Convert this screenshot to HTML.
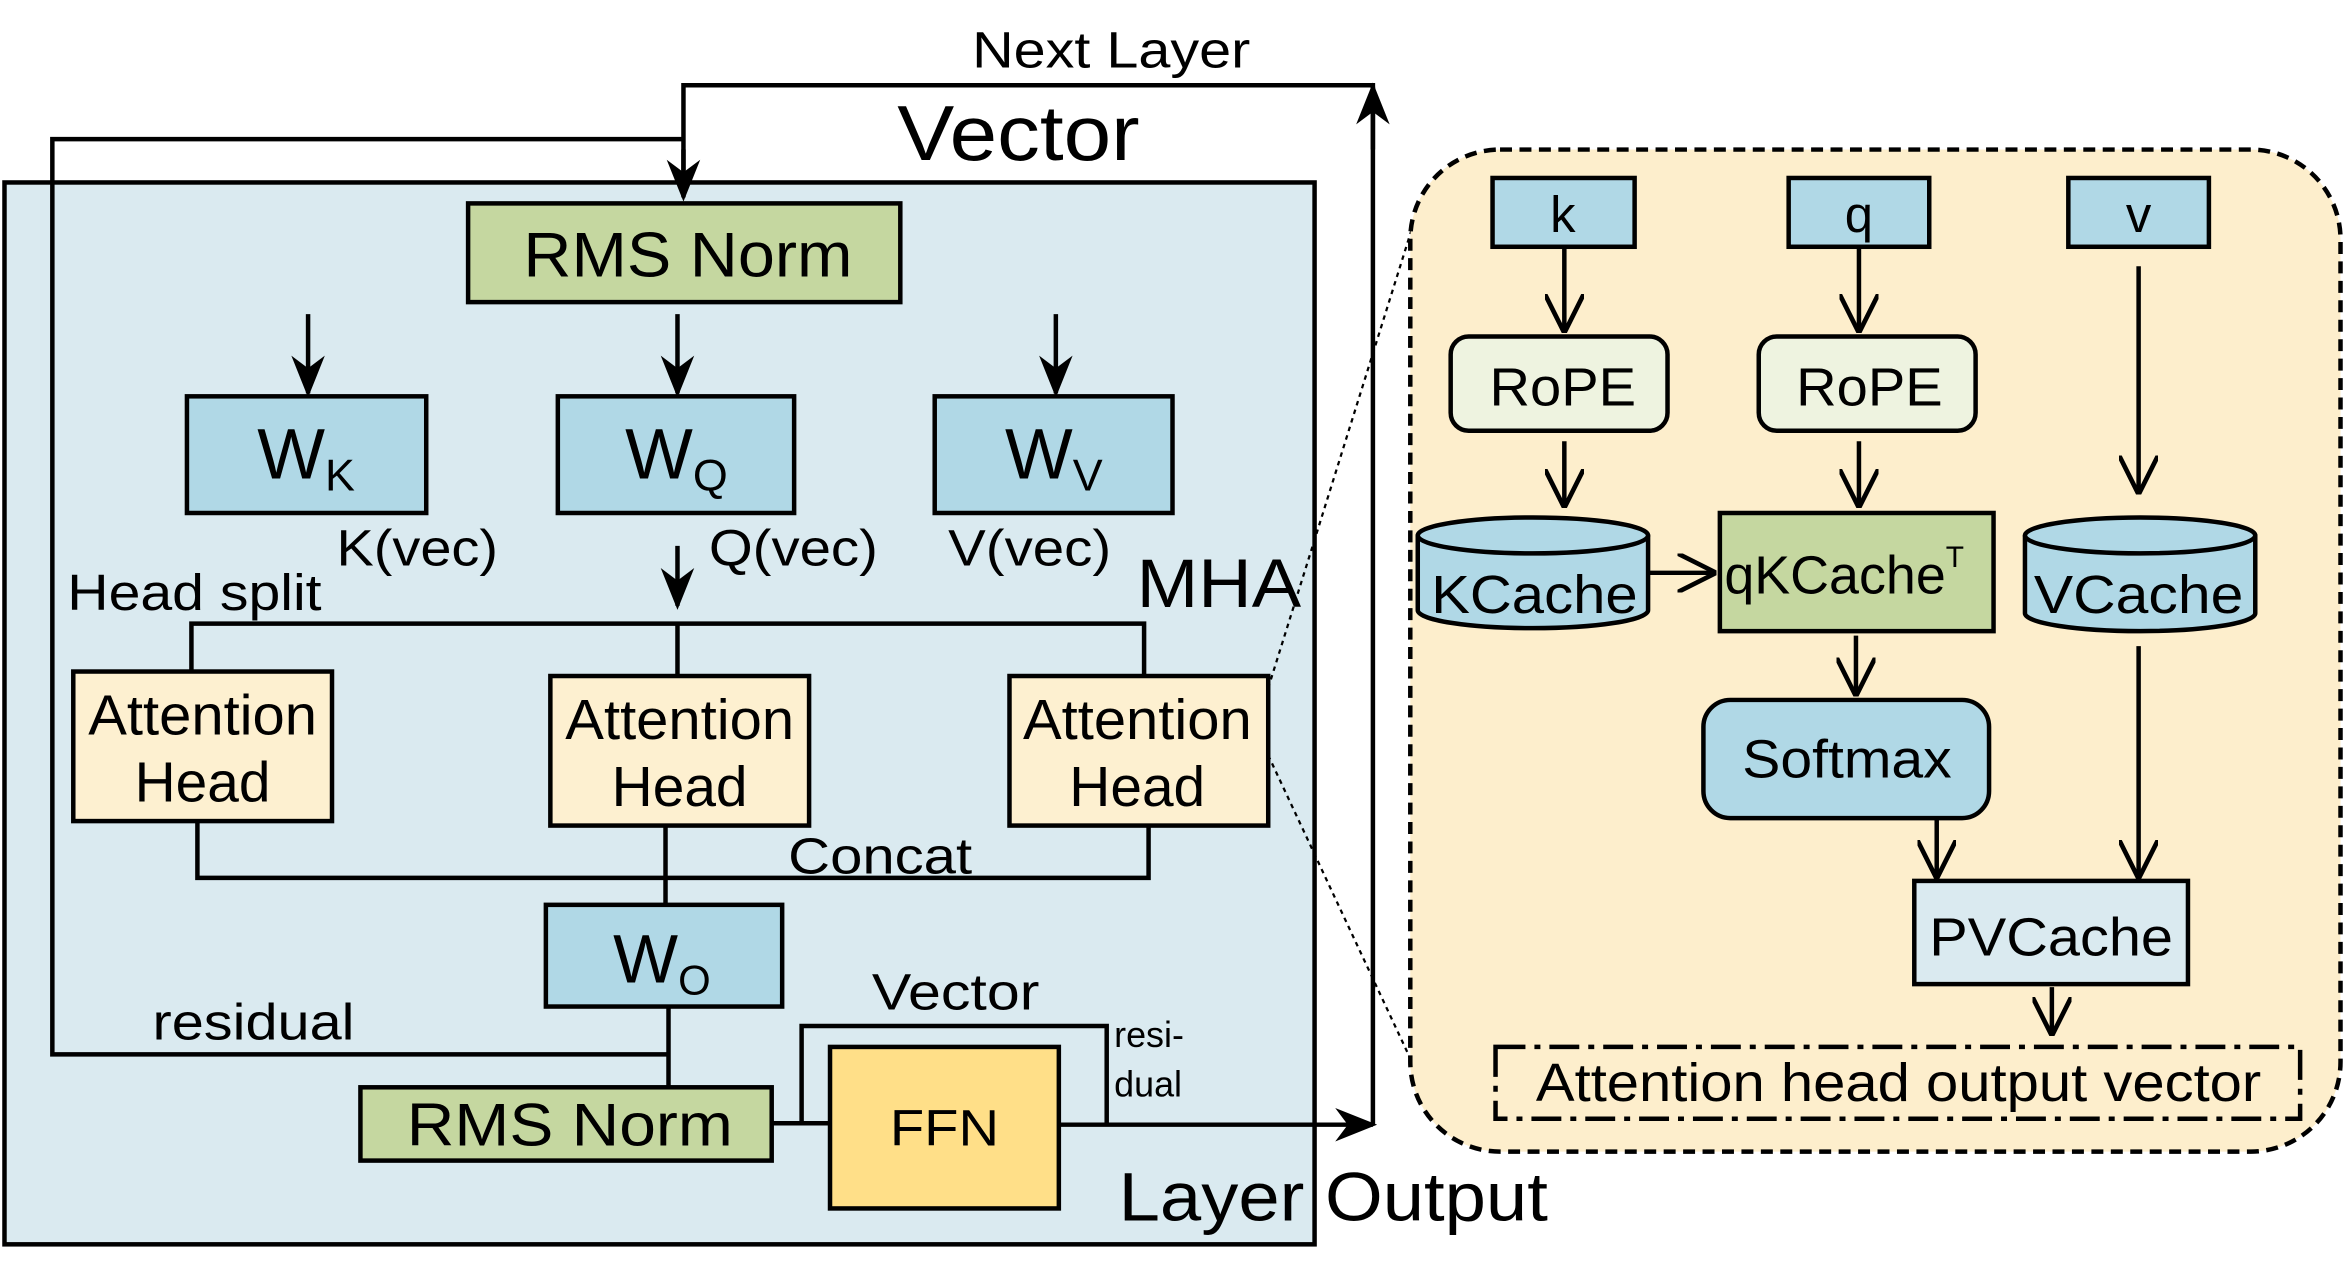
<!DOCTYPE html>
<html><head><meta charset="utf-8"><style>
html,body{margin:0;padding:0;background:#fff;}
svg{display:block;}
text{font-family:"Liberation Sans",sans-serif;fill:#000;}
</style></head><body>
<svg width="2345" height="1275" viewBox="0 0 1568 852.5" preserveAspectRatio="none" xmlns="http://www.w3.org/2000/svg">
<defs>
<marker id="b" viewBox="0 0 10 10" markerWidth="28" markerHeight="28" refX="9" refY="5" orient="auto" markerUnits="userSpaceOnUse"><path d="M0,1 L10,5 L0,9 L3,5 Z" fill="#000"/></marker>
<marker id="o" viewBox="0 0 10 10" markerWidth="26" markerHeight="26" refX="9" refY="5" orient="auto" markerUnits="userSpaceOnUse"><path d="M0,0 L10,5 L0,10" fill="none" stroke="#000" stroke-width="1.2"/></marker>
</defs>
<rect x="3" y="122" width="876" height="710" fill="#daeaf0" stroke="#000" stroke-width="3"/>
<g stroke="#000" stroke-width="3" fill="none">
<path d="M918,752 L918,57 L457,57 L457,130" />
<path d="M457,93 L35,93 L35,705 L447,705"/>
<path d="M128,449 L128,417 L765,417 L765,452 M453,417 L453,452"/>
<path d="M132,549 L132,587 L768,587 L768,552 M445,552 L445,605"/>
<path d="M447,673 L447,727"/>
<path d="M516,751 L555,751 M536,751 L536,686 L740,686 L740,751"/>
</g>
<g stroke="#000" stroke-width="3">
<line x1="457" y1="100" x2="457" y2="132" marker-end="url(#b)"/>
<line x1="918" y1="100" x2="918" y2="58" marker-end="url(#b)"/>
<line x1="708" y1="752" x2="918" y2="752" marker-end="url(#b)"/>
<line x1="206" y1="210" x2="206" y2="263" marker-end="url(#b)"/>
<line x1="453" y1="210" x2="453" y2="263" marker-end="url(#b)"/>
<line x1="706" y1="210" x2="706" y2="263" marker-end="url(#b)"/>
<line x1="453" y1="365" x2="453" y2="405" marker-end="url(#b)"/>
</g>
<rect x="313" y="136" width="289" height="66" fill="#c5d7a0" stroke="#000" stroke-width="3"/>
<text x="350" y="185" font-size="42" textLength="220" lengthAdjust="spacingAndGlyphs">RMS Norm</text>
<g fill="#b0d8e6" stroke="#000" stroke-width="3">
<rect x="125" y="265" width="160" height="78"/><rect x="373" y="265" width="158" height="78"/><rect x="625" y="265" width="159" height="78"/><rect x="365" y="605" width="158" height="68"/>
</g>
<text x="172" y="320" font-size="48">W<tspan font-size="30" dy="8">K</tspan></text>
<text x="418" y="320" font-size="48">W<tspan font-size="30" dy="8">Q</tspan></text>
<text x="672" y="320" font-size="48">W<tspan font-size="30" dy="8">V</tspan></text>
<text x="410" y="657" font-size="46">W<tspan font-size="28" dy="8">O</tspan></text>
<g font-size="34" lengthAdjust="spacingAndGlyphs">
<text x="225" y="378" textLength="108" lengthAdjust="spacingAndGlyphs">K(vec)</text>
<text x="474" y="378" textLength="113" lengthAdjust="spacingAndGlyphs">Q(vec)</text>
<text x="634" y="378" textLength="109" lengthAdjust="spacingAndGlyphs">V(vec)</text>
<text x="45" y="408" textLength="170" lengthAdjust="spacingAndGlyphs">Head split</text>
<text x="527" y="584" textLength="123" lengthAdjust="spacingAndGlyphs">Concat</text>
<text x="102" y="695" textLength="135" lengthAdjust="spacingAndGlyphs">residual</text>
<text x="583" y="675" textLength="112" lengthAdjust="spacingAndGlyphs">Vector</text>
<text x="650" y="45" textLength="186" lengthAdjust="spacingAndGlyphs">Next Layer</text>
</g>
<text x="600" y="107" font-size="52" textLength="162" lengthAdjust="spacingAndGlyphs">Vector</text>
<text x="760" y="406" font-size="46" textLength="110" lengthAdjust="spacingAndGlyphs">MHA</text>
<text x="748" y="816" font-size="46" textLength="287" lengthAdjust="spacingAndGlyphs">Layer Output</text>
<text x="745" y="700" font-size="24">resi-</text><text x="745" y="733" font-size="24">dual</text>
<g fill="#fdf0d0" stroke="#000" stroke-width="3">
<rect x="49" y="449" width="173" height="100"/><rect x="368" y="452" width="173" height="100"/><rect x="675" y="452" width="173" height="100"/>
</g>
<g font-size="38">
<text x="59" y="491" textLength="153" lengthAdjust="spacingAndGlyphs">Attention</text><text x="90" y="536">Head</text>
<text x="378" y="494" textLength="153" lengthAdjust="spacingAndGlyphs">Attention</text><text x="409" y="539">Head</text>
<text x="684" y="494" textLength="153" lengthAdjust="spacingAndGlyphs">Attention</text><text x="715" y="539">Head</text>
</g>
<rect x="241" y="727" width="275" height="49" fill="#c5d7a0" stroke="#000" stroke-width="3"/>
<text x="272" y="766" font-size="40" textLength="218" lengthAdjust="spacingAndGlyphs">RMS Norm</text>
<rect x="555" y="700" width="153" height="108" fill="#ffdf88" stroke="#000" stroke-width="3"/>
<text x="595" y="766" font-size="34" textLength="73" lengthAdjust="spacingAndGlyphs">FFN</text>
<g stroke="#000" stroke-width="1.5" stroke-dasharray="3,3">
<line x1="848" y1="460" x2="945" y2="150"/><line x1="848" y1="505" x2="945" y2="712"/>
</g>
<rect x="943" y="100" width="622" height="670" rx="60" fill="#fdeecc" stroke="#000" stroke-width="3" stroke-dasharray="8,5"/>
<g fill="#b0d8e6" stroke="#000" stroke-width="3">
<rect x="998" y="119" width="95" height="46"/><rect x="1196" y="119" width="94" height="46"/><rect x="1383" y="119" width="94" height="46"/>
</g>
<g font-size="34" text-anchor="middle">
<text x="1045" y="155">k</text><text x="1243" y="155">q</text><text x="1430" y="155">v</text>
</g>
<g stroke="#000" stroke-width="3">
<line x1="1046" y1="165" x2="1046" y2="220" marker-end="url(#o)"/>
<line x1="1243" y1="165" x2="1243" y2="220" marker-end="url(#o)"/>
<line x1="1430" y1="178" x2="1430" y2="328" marker-end="url(#o)"/>
<line x1="1046" y1="295" x2="1046" y2="337" marker-end="url(#o)"/>
<line x1="1243" y1="295" x2="1243" y2="337" marker-end="url(#o)"/>
<line x1="1102" y1="383" x2="1145" y2="383" marker-end="url(#o)"/>
<line x1="1241" y1="425" x2="1241" y2="463" marker-end="url(#o)"/>
<line x1="1295" y1="548" x2="1295" y2="585" marker-end="url(#o)"/>
<line x1="1430" y1="432" x2="1430" y2="585" marker-end="url(#o)"/>
<line x1="1372" y1="660" x2="1372" y2="690" marker-end="url(#o)"/>
</g>
<g fill="#eef3e0" stroke="#000" stroke-width="3">
<rect x="970" y="225" width="145" height="63" rx="12"/><rect x="1176" y="225" width="145" height="63" rx="12"/>
</g>
<g font-size="36"><text x="996" y="271" textLength="98" lengthAdjust="spacingAndGlyphs">RoPE</text><text x="1201" y="271" textLength="98" lengthAdjust="spacingAndGlyphs">RoPE</text></g>
<g fill="#b0d8e6" stroke="#000" stroke-width="3">
<path d="M948,358 L948,408 A77,12 0 0 0 1102,408 L1102,358"/><ellipse cx="1025" cy="358" rx="77" ry="12"/>
<path d="M1354,358 L1354,410 A77,12 0 0 0 1508,410 L1508,358"/><ellipse cx="1431" cy="358" rx="77" ry="12"/>
</g>
<g font-size="36"><text x="957" y="410" textLength="138" lengthAdjust="spacingAndGlyphs">KCache</text><text x="1360" y="410" textLength="140" lengthAdjust="spacingAndGlyphs">VCache</text></g>
<rect x="1150" y="343" width="183" height="79" fill="#c5d7a0" stroke="#000" stroke-width="3"/>
<text x="1153" y="397" font-size="36">qKCache<tspan font-size="20" dy="-18">T</tspan></text>
<rect x="1139" y="468" width="191" height="79" rx="18" fill="#b0d8e6" stroke="#000" stroke-width="3"/>
<text x="1165" y="520" font-size="36" textLength="140" lengthAdjust="spacingAndGlyphs">Softmax</text>
<rect x="1280" y="589" width="183" height="69" fill="#daeaf0" stroke="#000" stroke-width="3"/>
<text x="1290" y="639" font-size="36" textLength="163" lengthAdjust="spacingAndGlyphs">PVCache</text>
<rect x="1000" y="700" width="538" height="48" fill="none" stroke="#000" stroke-width="3" stroke-dasharray="20,6,4,6"/>
<text x="1027" y="736" font-size="36" textLength="485" lengthAdjust="spacingAndGlyphs">Attention head output vector</text>
</svg>
</body></html>
